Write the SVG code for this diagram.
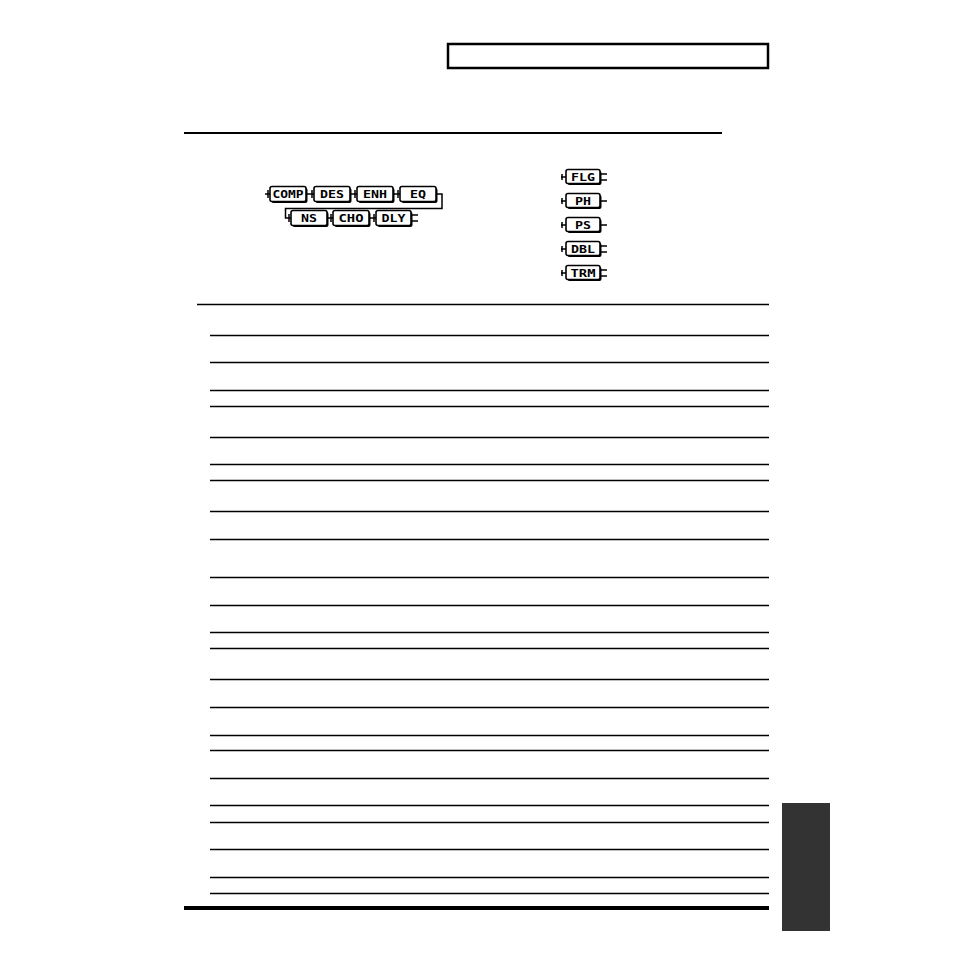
<svg xmlns="http://www.w3.org/2000/svg" width="954" height="954" viewBox="0 0 954 954">
<style>
.blk rect.sh{fill:#000}
.blk rect.bx{fill:#fff;stroke:#000;stroke-width:1.6}
.blk text{font-family:"DejaVu Sans Mono","Liberation Mono",monospace;font-weight:bold;font-size:10.5px;text-anchor:middle;fill:#000}
.cn{fill:none;stroke:#000;stroke-width:1.5}
.rule{stroke:#000;stroke-width:1.3}
</style>
<rect width="954" height="954" fill="#fff"/>
<rect x="448" y="44" width="320" height="24" fill="none" stroke="#000" stroke-width="2.5"/>
<line x1="184" y1="133" x2="722" y2="133" stroke="#000" stroke-width="2"/>

<g id="connectors">
<path class="cn" d="M265,194H270 M306,194H314 M350,194H357 M393,194H400 M436,194H442V208.5H285.5V218H291 M327,218H333 M369,218H376"/>
<path class="cn" d="M268,190V198 M312,190V198 M355,190V198 M398,190V198 M289,214V222 M331,214V222 M374,214V222"/>
<path class="cn" d="M411,215H418 M411,221H418"/>
<path class="cn" d="M561,177H566 M561,201H566 M561,225H566 M561,249H566 M561,273H566"/>
<path class="cn" d="M562,174V180 M562,198V204 M562,222V228 M562,246V252 M562,270V276"/>
<path class="cn" d="M600,174H607 M600,180H607 M600,201H607 M600,225H607 M600,246H607 M600,252H607 M600,270H607 M600,276H607"/>
</g>

<g id="COMP" class="blk"><rect class="sh" x="271.5" y="188" width="36" height="15" rx="2"/><rect class="bx" x="270" y="186.5" width="36" height="15" rx="2"/><text x="288" y="198" textLength="31" lengthAdjust="spacingAndGlyphs">COMP</text></g>
<g id="DES" class="blk"><rect class="sh" x="315.5" y="188" width="36" height="15" rx="2"/><rect class="bx" x="314" y="186.5" width="36" height="15" rx="2"/><text x="332" y="198" textLength="24" lengthAdjust="spacingAndGlyphs">DES</text></g>
<g id="ENH" class="blk"><rect class="sh" x="358.5" y="188" width="36" height="15" rx="2"/><rect class="bx" x="357" y="186.5" width="36" height="15" rx="2"/><text x="375" y="198" textLength="24" lengthAdjust="spacingAndGlyphs">ENH</text></g>
<g id="EQ" class="blk"><rect class="sh" x="401.5" y="188" width="36" height="15" rx="2"/><rect class="bx" x="400" y="186.5" width="36" height="15" rx="2"/><text x="418" y="198" textLength="16" lengthAdjust="spacingAndGlyphs">EQ</text></g>
<g id="NS" class="blk"><rect class="sh" x="292.5" y="212" width="36" height="15" rx="2"/><rect class="bx" x="291" y="210.5" width="36" height="15" rx="2"/><text x="309" y="222" textLength="16" lengthAdjust="spacingAndGlyphs">NS</text></g>
<g id="CHO" class="blk"><rect class="sh" x="334.5" y="212" width="36" height="15" rx="2"/><rect class="bx" x="333" y="210.5" width="36" height="15" rx="2"/><text x="351" y="222" textLength="25" lengthAdjust="spacingAndGlyphs">CHO</text></g>
<g id="DLY" class="blk"><rect class="sh" x="377.5" y="212" width="35" height="15" rx="2"/><rect class="bx" x="376" y="210.5" width="35" height="15" rx="2"/><text x="393.5" y="222" textLength="24" lengthAdjust="spacingAndGlyphs">DLY</text></g>

<g id="FLG" class="blk"><rect class="sh" x="567.5" y="171" width="34" height="14" rx="2"/><rect class="bx" x="566" y="169.5" width="34" height="14" rx="2"/><text x="583" y="180.5" textLength="24" lengthAdjust="spacingAndGlyphs">FLG</text></g>
<g id="PH" class="blk"><rect class="sh" x="567.5" y="195" width="34" height="14" rx="2"/><rect class="bx" x="566" y="193.5" width="34" height="14" rx="2"/><text x="583" y="204.5" textLength="16" lengthAdjust="spacingAndGlyphs">PH</text></g>
<g id="PS" class="blk"><rect class="sh" x="567.5" y="219" width="34" height="14" rx="2"/><rect class="bx" x="566" y="217.5" width="34" height="14" rx="2"/><text x="583" y="228.5" textLength="16" lengthAdjust="spacingAndGlyphs">PS</text></g>
<g id="DBL" class="blk"><rect class="sh" x="567.5" y="243" width="34" height="14" rx="2"/><rect class="bx" x="566" y="241.5" width="34" height="14" rx="2"/><text x="583" y="252.5" textLength="24" lengthAdjust="spacingAndGlyphs">DBL</text></g>
<g id="TRM" class="blk"><rect class="sh" x="567.5" y="267" width="34" height="14" rx="2"/><rect class="bx" x="566" y="265.5" width="34" height="14" rx="2"/><text x="583" y="276.5" textLength="25" lengthAdjust="spacingAndGlyphs">TRM</text></g>

<g id="table">
<line x1="197" y1="304.5" x2="769" y2="304.5" stroke="#000" stroke-width="1.6"/>
<g class="rule">
<line x1="210" y1="335.5" x2="769" y2="335.5"/>
<line x1="210" y1="362.5" x2="769" y2="362.5"/>
<line x1="210" y1="390.5" x2="769" y2="390.5"/>
<line x1="210" y1="406.5" x2="769" y2="406.5"/>
<line x1="210" y1="437.5" x2="769" y2="437.5"/>
<line x1="210" y1="464.5" x2="769" y2="464.5"/>
<line x1="210" y1="480.5" x2="769" y2="480.5"/>
<line x1="210" y1="511.5" x2="769" y2="511.5"/>
<line x1="210" y1="539.5" x2="769" y2="539.5"/>
<line x1="210" y1="577.5" x2="769" y2="577.5"/>
<line x1="210" y1="605.5" x2="769" y2="605.5"/>
<line x1="210" y1="632.5" x2="769" y2="632.5"/>
<line x1="210" y1="648.5" x2="769" y2="648.5"/>
<line x1="210" y1="679.5" x2="769" y2="679.5"/>
<line x1="210" y1="707.5" x2="769" y2="707.5"/>
<line x1="210" y1="735.5" x2="769" y2="735.5"/>
<line x1="210" y1="750.5" x2="769" y2="750.5"/>
<line x1="210" y1="778.5" x2="769" y2="778.5"/>
<line x1="210" y1="805.5" x2="769" y2="805.5"/>
<line x1="210" y1="822.5" x2="769" y2="822.5"/>
<line x1="210" y1="849.5" x2="769" y2="849.5"/>
<line x1="210" y1="877.5" x2="769" y2="877.5"/>
<line x1="210" y1="893.5" x2="769" y2="893.5"/>
</g>
<rect x="184" y="906" width="585" height="4" fill="#000"/>
</g>
<rect x="782" y="803" width="48" height="128" fill="#333"/>
</svg>
